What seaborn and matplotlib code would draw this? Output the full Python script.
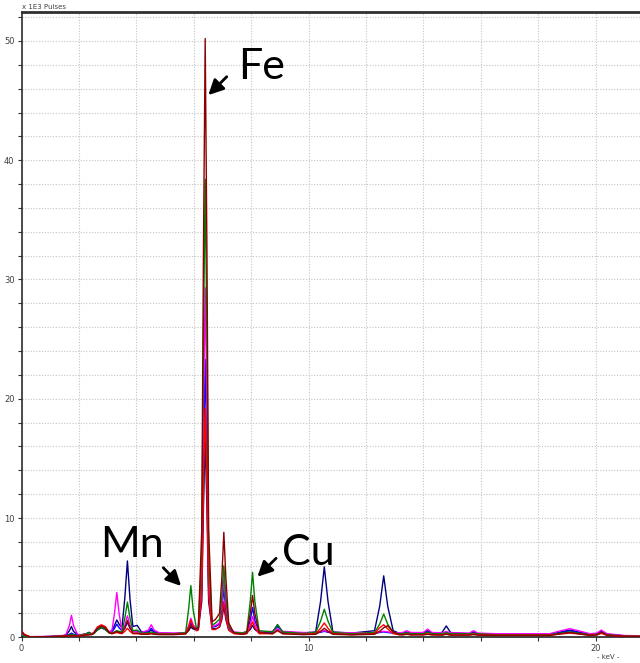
import numpy as np
import pandas as pd
import matplotlib
matplotlib.use("Agg")
import matplotlib.pyplot as plt
from matplotlib.ticker import MultipleLocator
import seaborn as sns

# Energy grid (keV) shared by all spectra
energy = [0.00, 0.10, 0.30, 1.00, 1.45,
          1.55, 1.67, 1.74, 1.81, 1.95,
          2.10, 2.25, 2.35, 2.45,
          2.52, 2.64, 2.78, 2.92, 3.05,
          3.15, 3.24, 3.32, 3.40, 3.50,
          3.60, 3.69, 3.78, 3.88,
          4.03, 4.18,
          4.42, 4.52, 4.62, 4.80,
          5.30,
          5.72, 5.82, 5.90, 5.98, 6.10,
          6.16, 6.28, 6.34, 6.40, 6.46, 6.52, 6.64, 6.76,
          6.90, 6.98, 7.05, 7.12, 7.22, 7.40,
          7.70,
          7.85, 7.97, 8.05, 8.13, 8.28,
          8.75, 8.92, 9.10,
          9.80,
          10.25, 10.42, 10.55, 10.68, 10.85,
          11.50,
          12.30, 12.48, 12.62, 12.76, 12.95, 13.15,
          13.28, 13.42, 13.56,
          14.00, 14.15, 14.30,
          14.65, 14.80, 14.95,
          15.60, 15.75, 15.90,
          16.50, 18.40, 18.80, 19.10, 19.40, 19.80, 20.05, 20.20, 20.40, 21.00, 21.70]

# Counts (x 1E3 pulses) per spectrum
navy = [0.20, 0.08, 0.03, 0.06, 0.12,
        0.18, 0.55, 0.90, 0.50, 0.20,
        0.22, 0.30, 0.42, 0.28,
        0.35, 0.60, 0.80, 0.65, 0.45,
        0.55, 1.00, 1.45, 1.10, 0.80,
        3.30, 6.40, 3.20, 0.90,
        1.00, 0.45,
        0.45, 0.60, 0.45, 0.35,
        0.30,
        0.35, 0.55, 0.85, 0.70, 0.60,
        0.65, 3.0, 10.9, 16.8, 10.9, 3.0, 0.75, 0.70,
        0.85, 1.5, 2.6, 1.5, 0.6, 0.35,
        0.35,
        0.40, 0.65, 1.00, 0.65, 0.40,
        0.45, 1.05, 0.45,
        0.35,
        0.45, 3.00, 5.90, 3.00, 0.45,
        0.35,
        0.55, 2.6, 5.15, 2.6, 0.55, 0.35,
        0.35, 0.45, 0.35,
        0.35, 0.55, 0.35,
        0.40, 0.95, 0.40,
        0.30, 0.45, 0.30,
        0.25, 0.25, 0.45, 0.60, 0.45, 0.25, 0.30, 0.50, 0.25, 0.12, 0.10]

blue = [0.20, 0.08, 0.03, 0.06, 0.12,
        0.15, 0.25, 0.35, 0.25, 0.18,
        0.20, 0.25, 0.30, 0.28,
        0.35, 0.65, 0.85, 0.65, 0.40,
        0.45, 0.75, 1.10, 0.80, 0.55,
        0.75, 1.25, 0.75, 0.50,
        0.50, 0.40,
        0.45, 0.75, 0.45, 0.35,
        0.32,
        0.35, 0.70, 1.20, 0.85, 0.65,
        0.70, 4.2, 15.1, 23.3, 15.1, 4.2, 0.85, 0.90,
        1.1, 2.3, 4.1, 2.3, 0.8, 0.40,
        0.35,
        0.45, 1.40, 2.50, 1.40, 0.45,
        0.45, 0.90, 0.45,
        0.35,
        0.35, 0.42, 0.50, 0.42, 0.35,
        0.32,
        0.35, 0.40, 0.45, 0.40, 0.35, 0.32,
        0.32, 0.40, 0.32,
        0.32, 0.45, 0.32,
        0.30, 0.40, 0.30,
        0.30, 0.40, 0.30,
        0.25, 0.25, 0.40, 0.55, 0.40, 0.25, 0.28, 0.42, 0.25, 0.12, 0.10]

magenta = [0.30, 0.12, 0.05, 0.08, 0.15,
           0.25, 1.00, 1.85, 1.00, 0.25,
           0.22, 0.28, 0.32, 0.30,
           0.40, 0.75, 0.90, 0.75, 0.45,
           0.55, 2.00, 3.75, 2.00, 0.55,
           1.00, 1.80, 1.00, 0.50,
           0.45, 0.40,
           0.60, 1.05, 0.60, 0.38,
           0.35,
           0.40, 0.95, 1.60, 1.05, 0.70,
           0.75, 5.3, 19.0, 29.3, 19.0, 5.3, 0.90, 1.00,
           1.2, 2.8, 4.9, 2.8, 0.9, 0.45,
           0.38,
           0.45, 1.05, 1.75, 1.05, 0.45,
           0.50, 0.70, 0.50,
           0.40,
           0.40, 0.48, 0.55, 0.48, 0.40,
           0.38,
           0.40, 0.45, 0.50, 0.45, 0.40, 0.38,
           0.40, 0.55, 0.40,
           0.40, 0.68, 0.40,
           0.38, 0.48, 0.38,
           0.35, 0.55, 0.35,
           0.30, 0.30, 0.55, 0.72, 0.55, 0.30, 0.35, 0.60, 0.30, 0.15, 0.12]

green = [0.20, 0.08, 0.03, 0.06, 0.12,
         0.15, 0.20, 0.25, 0.20, 0.15,
         0.20, 0.28, 0.38, 0.28,
         0.30, 0.60, 0.85, 0.65, 0.35,
         0.35, 0.45, 0.55, 0.50, 0.45,
         1.60, 2.95, 1.60, 0.55,
         0.60, 0.35,
         0.35, 0.45, 0.35, 0.30,
         0.28,
         0.40, 2.30, 4.33, 2.30, 0.70,
         0.80, 6.9, 25.0, 38.4, 25.0, 6.9, 1.00, 1.20,
         1.5, 3.4, 6.0, 3.4, 1.0, 0.40,
         0.35,
         0.50, 3.00, 5.45, 3.00, 0.55,
         0.45, 1.05, 0.45,
         0.32,
         0.40, 1.35, 2.35, 1.35, 0.40,
         0.30,
         0.40, 1.10, 1.95, 1.10, 0.40, 0.30,
         0.30, 0.38, 0.30,
         0.30, 0.42, 0.30,
         0.30, 0.38, 0.30,
         0.28, 0.35, 0.28,
         0.22, 0.22, 0.35, 0.45, 0.35, 0.22, 0.25, 0.38, 0.22, 0.10, 0.08]

red = [0.55, 0.25, 0.04, 0.05, 0.10,
       0.12, 0.14, 0.15, 0.14, 0.12,
       0.15, 0.20, 0.22, 0.25,
       0.40, 0.85, 1.05, 0.90, 0.45,
       0.30, 0.35, 0.40, 0.35, 0.30,
       0.50, 0.75, 0.50, 0.30,
       0.30, 0.28,
       0.28, 0.32, 0.28, 0.25,
       0.25,
       0.30, 0.85, 1.45, 0.90, 0.55,
       0.60, 3.5, 12.5, 19.2, 12.5, 3.5, 0.65, 0.65,
       0.9, 1.7, 3.0, 1.7, 0.6, 0.30,
       0.25,
       0.30, 0.80, 1.30, 0.80, 0.30,
       0.30, 0.55, 0.30,
       0.25,
       0.30, 0.75, 1.20, 0.75, 0.30,
       0.22,
       0.30, 0.80, 1.05, 0.70, 0.30, 0.22,
       0.22, 0.28, 0.22,
       0.22, 0.30, 0.22,
       0.20, 0.28, 0.20,
       0.20, 0.28, 0.20,
       0.18, 0.18, 0.28, 0.35, 0.28, 0.18, 0.20, 0.32, 0.18, 0.08, 0.06]

darkred = [0.45, 0.20, 0.04, 0.05, 0.08,
           0.10, 0.12, 0.14, 0.12, 0.10,
           0.12, 0.18, 0.20, 0.22,
           0.35, 0.75, 0.95, 0.80, 0.40,
           0.30, 0.40, 0.50, 0.40, 0.35,
           0.80, 1.40, 0.80, 0.35,
           0.35, 0.25,
           0.25, 0.30, 0.25, 0.22,
           0.22,
           0.28, 0.60, 1.00, 0.80, 0.70,
           0.80, 9.0, 32.6, 50.2, 32.6, 9.0, 1.30, 1.50,
           2.0, 5.0, 8.8, 5.0, 1.2, 0.35,
           0.25,
           0.35, 2.00, 3.50, 2.00, 0.40,
           0.30, 0.60, 0.30,
           0.22,
           0.25, 0.50, 0.75, 0.50, 0.25,
           0.20,
           0.25, 0.50, 0.80, 0.97, 0.45, 0.22,
           0.20, 0.25, 0.20,
           0.20, 0.25, 0.20,
           0.18, 0.25, 0.18,
           0.18, 0.22, 0.18,
           0.15, 0.15, 0.30, 0.40, 0.30, 0.15, 0.20, 0.42, 0.15, 0.08, 0.06]

series_names = ["navy", "blue", "magenta", "green", "red", "darkred"]
series_colors = ["#000080", "#0000FF", "#FF00FF", "#008000", "#FF0000", "#8B0000"]
series_values = [navy, blue, magenta, green, red, darkred]

annotations = ["Fe", "Mn", "Cu"]
ann_text_xy = [(7.54, 46.8), (2.735, 6.73), (9.08, 6.06)]
ann_tail = [(7.15, 47.0), (4.94, 5.83), (8.87, 6.62)]
ann_tip = [(6.51, 45.46), (5.56, 4.30), (8.22, 5.08)]

frames = []
for name, vals in zip(series_names, series_values):
    assert len(vals) == len(energy), name
    frames.append(pd.DataFrame({"keV": energy, "pulses": vals, "series": name}))
df = pd.concat(frames, ignore_index=True)

sns.set_style("white")
plt.rcParams["font.family"] = ["DejaVu Sans"]

fig = plt.figure(figsize=(6.4, 6.63), dpi=100)
ax = fig.add_axes([0.0336, 0.0388, 0.9664, 0.9426])

sns.lineplot(data=df, x="keV", y="pulses", hue="series", hue_order=series_names,
             palette=dict(zip(series_names, series_colors)), linewidth=1.0,
             estimator=None, sort=False, legend=False, ax=ax, zorder=3)

ax.set_xlim(0, 21.55)
ax.set_ylim(0, 52.4)
ax.xaxis.set_major_locator(MultipleLocator(10))
ax.xaxis.set_minor_locator(MultipleLocator(2))
ax.yaxis.set_major_locator(MultipleLocator(10))
ax.yaxis.set_minor_locator(MultipleLocator(2))
ax.grid(True, which="both", color="#c4c4c4", linestyle=(0, (1, 1.5)), linewidth=0.8, zorder=0)
ax.set_axisbelow(True)
ax.tick_params(which="both", direction="out", length=3, width=0.8, color="#333333",
               labelsize=6, labelcolor="#404040", pad=2)
ax.tick_params(which="both", left=True, bottom=True)
ax.set_xlabel("")
ax.set_ylabel("")

ax.spines["right"].set_visible(False)
ax.spines["top"].set_linewidth(2.0)
ax.spines["top"].set_color("#303030")
ax.spines["left"].set_linewidth(1.2)
ax.spines["left"].set_color("#303030")
ax.spines["bottom"].set_linewidth(1.2)
ax.spines["bottom"].set_color("#202020")

fig.text(22 / 640, 1 - 7 / 663, "x 1E3 Pulses", fontsize=5, color="#404040",
         ha="left", va="center")
fig.text(608 / 640, 1 - 657 / 663, "- keV -", fontsize=5, color="#404040",
         ha="center", va="center")

for label, txy, tail, tip in zip(annotations, ann_text_xy, ann_tail, ann_tip):
    ax.text(txy[0], txy[1], label, fontsize=31, family=["Lato", "DejaVu Sans"],
            ha="left", va="baseline", color="black", zorder=5)
    ax.annotate("", xy=tip, xytext=tail,
                arrowprops=dict(arrowstyle="-|>,head_length=0.9,head_width=0.45",
                                lw=2, color="black", shrinkA=0, shrinkB=0,
                                mutation_scale=10), zorder=5)

fig.savefig("out.png", dpi=100)
